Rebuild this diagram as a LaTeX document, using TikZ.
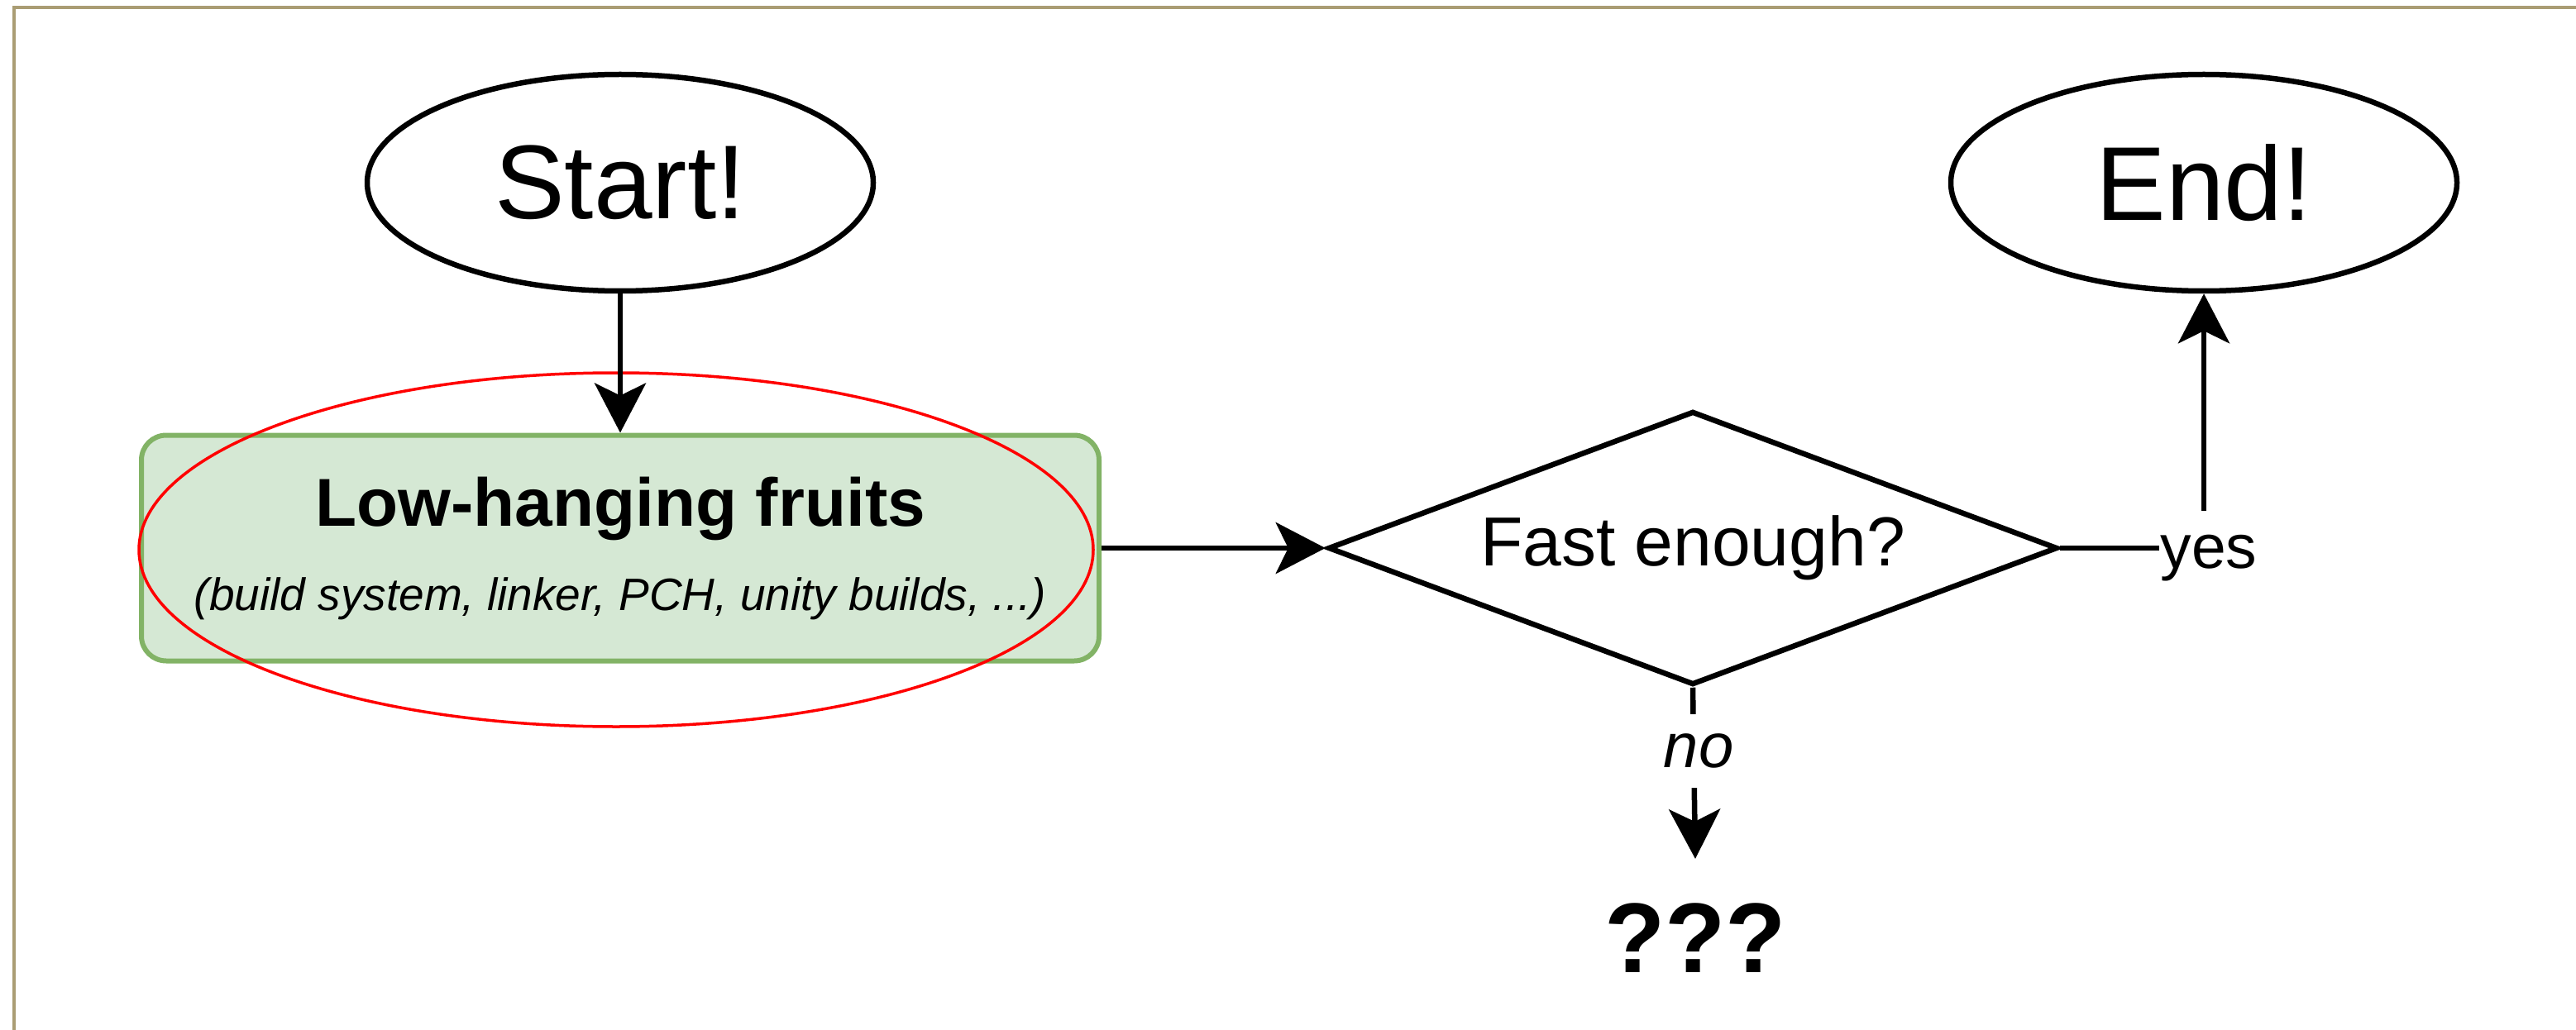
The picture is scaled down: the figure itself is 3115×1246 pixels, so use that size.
\documentclass[tikz,border=0pt]{standalone}
\usepackage{fontspec}
\setmainfont{Liberation Sans}
\usetikzlibrary{shapes,arrows.meta,positioning,calc}
\definecolor{frametan}{HTML}{AA9D74}
\definecolor{fruitfill}{HTML}{D5E8D4}
\definecolor{fruitline}{HTML}{82B366}

\begin{document}
\begin{tikzpicture}[x=1pt,y=-1pt,
  terminal/.style={ellipse,draw,line width=6.5pt,minimum width=612pt,minimum height=262pt,inner sep=0pt,font=\fontsize{127}{150}\selectfont},
  flow/.style={line width=6.5pt,-{Stealth[length=60pt,width=62pt,inset=15pt]}},
  edgelabel/.style={fill=white,inner xsep=2pt,font=\fontsize{75}{90}\selectfont}]
\useasboundingbox (0,0) rectangle (3115,1246);
% frame
\draw[frametan,line width=4pt] (17,1246) -- (17,9) -- (3115,9);

% Start / End
\node[terminal] (start) at (750,221) {Start!};
\node[terminal] (end) at (2665,221) {End!};

% first step, circled in red
\node[draw=fruitline,fill=fruitfill,line width=6pt,rounded corners=30pt,minimum width=1158pt,minimum height=273pt,align=center,font=\fontsize{55}{102}\selectfont] (fruits) at (750,663)
  {{\fontsize{82}{102}\selectfont\bfseries Low-hanging fruits}\\ \itshape (build system, linker, PCH, unity builds, ...)};
\draw[red,line width=3.5pt] (745,665) ellipse [x radius=577pt,y radius=214pt];

% decision
\node[diamond,aspect=2.66,draw,line width=6.5pt,minimum width=882pt,minimum height=331pt,inner sep=0pt,font=\fontsize{84}{100}\selectfont] (fast) at (2047,663) {Fast enough?};
\node[font=\fontsize{120}{144}\selectfont\bfseries,inner ysep=54pt] (unknown) at (2050,1135) {???};

% arrows
\draw[flow] (start) -- (fruits);
\draw[flow] (fruits) -- (fast);
\draw[flow] (fast.east) -| node[edgelabel,pos=0.5,inner ysep=29pt,xshift=6pt,yshift=-12pt] {yes} (end.south);
\draw[flow] (fast.south) -- node[edgelabel,pos=0.37,inner ysep=24pt,xshift=6pt,font=\fontsize{76}{90}\selectfont\itshape] {no} (unknown.north);
\end{tikzpicture}
\end{document}
